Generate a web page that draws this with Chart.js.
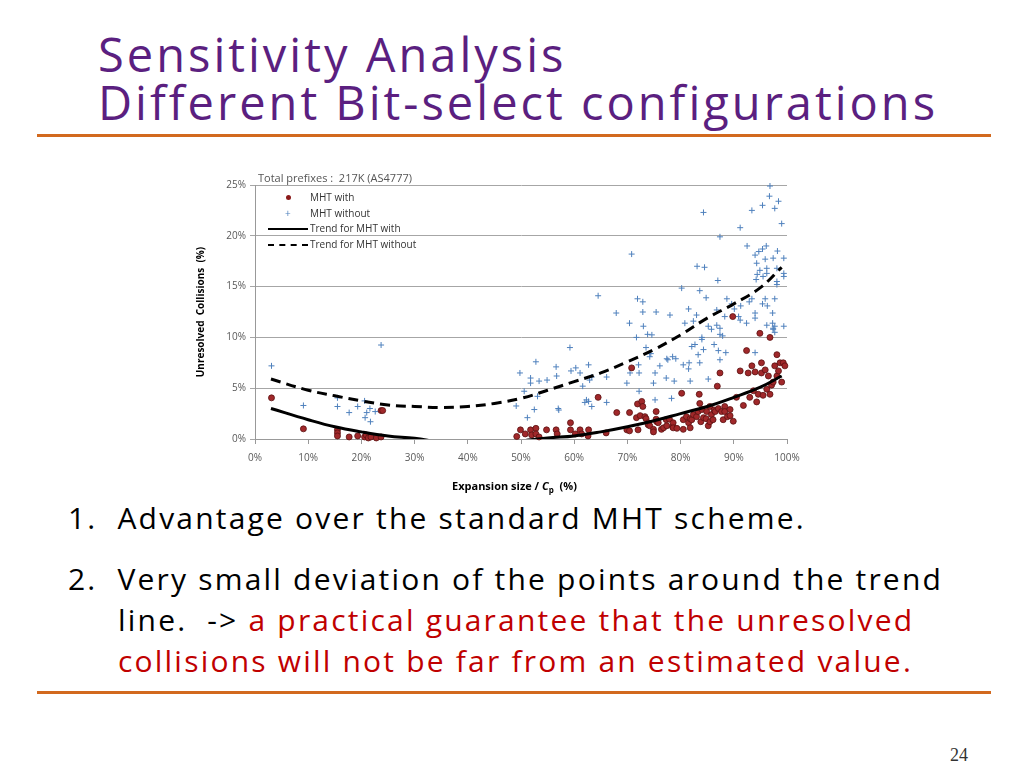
<!DOCTYPE html>
<html>
<head>
<meta charset="utf-8">
<script src="https://cdn.jsdelivr.net/npm/chart.js@4.4.1/dist/chart.umd.min.js"></script>
<style>
  body { margin: 0; background: #fff; }
  #page { position: relative; width: 1024px; height: 768px; overflow: hidden; font-family: "Open Sans", sans-serif; }
  .title { position: absolute; left: 98px; color: #5b1f80; font-size: 47px; letter-spacing: 3px; line-height: 1; white-space: nowrap; }
  .rule { position: absolute; left: 37px; width: 954px; height: 3px; background: #d2691e; }
  .body { position: absolute; font-size: 30px; letter-spacing: 2.2px; white-space: nowrap; color: #000; }
  .red { color: #c00000; }
  #chartBox { position: absolute; left: 150px; top: 160px; width: 660px; height: 320px; }
  .sub { position: absolute; left: 258px; top: 170px; font: 11px "Open Sans", sans-serif; color: #555; }
  .leg { position: absolute; left: 262px; top: 190px; font: 10px "Open Sans", sans-serif; color: #333; }
  .leg div { position: relative; height: 15.5px; line-height: 15.5px; padding-left: 48px; }
  .leg .dot { position: absolute; left: 24px; top: 5px; width: 5px; height: 5px; border-radius: 50%; background: #8b1a1a; }
  .leg .cross { position: absolute; left: 23px; top: 0; color: #4f81bd; font-size: 10px; }
  .leg .ln { position: absolute; left: 6px; top: 7px; width: 40px; border-top: 2.5px solid #000; }
  .leg .dash { border-top: 2.5px dashed #000; }
  .xt { position: absolute; left: 452px; top: 478px; font: bold 11px "Open Sans", sans-serif; color: #000; }
  .pg { position: absolute; left: 950px; top: 745px; font: 18px "Liberation Serif", serif; color: #333; }
</style>
</head>
<body>
<div id="page">
  <div class="title" style="top:31px">Sensitivity Analysis</div>
  <div class="title" style="top:79px">Different Bit-select configurations</div>
  <div class="rule" style="top:134px"></div>

  <div id="chartBox"><canvas id="chart"></canvas></div>
  <div class="sub">Total prefixes :&nbsp; 217K (AS4777)</div>
  <div class="leg">
    <div><span class="dot"></span>MHT with</div>
    <div><span class="cross">+</span>MHT without</div>
    <div><span class="ln"></span>Trend for MHT with</div>
    <div><span class="ln dash"></span>Trend for MHT without</div>
  </div>
  <div class="xt">Expansion size / <i>C</i><sub style="font-size:8px">p</sub>&nbsp; (%)</div>

  <div class="body" style="left:68px; top:497px">1.&nbsp; Advantage over the standard MHT scheme.</div>
  <div class="body" style="left:68px; top:558px">2.&nbsp; Very small deviation of the points around the trend</div>
  <div class="body" style="left:118px; top:599px">line.&nbsp; -&gt; <span class="red">a practical guarantee that the unresolved</span></div>
  <div class="body red" style="left:118px; top:640px">collisions will not be far from an estimated value.</div>
  <div class="rule" style="top:691px"></div>
  <div class="pg">24</div>
</div>

<script>
// MHT with (red dots), x = expansion size %, y = unresolved collisions %
const withX = [3.1,9.1,15.5,15.5,15.5,17.7,19.3,20.6,20.9,21.3,21.8,22.8,23.7,23.7,24.0,
  49.2,49.9,50.8,51.8,52.0,52.8,52.8,53.4,54.8,56.6,56.8,59.3,59.3,60.2,61.1,61.4,62.7,62.6,64.5,66.0,
  68.0,69.9,70.4,70.4,70.8,71.7,71.9,72.0,72.4,72.7,72.9,73.3,73.5,73.9,73.9,74.2,74.9,74.9,75.4,75.4,
  75.5,75.8,76.4,76.8,77.3,77.4,77.9,78.5,78.6,78.6,79.3,80.2,80.5,80.5,81.1,81.5,81.8,81.8,82.1,82.4,
  83.0,83.3,83.5,83.6,83.8,84.0,84.3,84.8,84.9,85.2,85.5,85.5,85.8,86.1,86.3,86.5,86.9,87.1,87.4,87.7,
  88.0,88.3,88.3,88.8,89.3,89.3,89.8,89.9,90.5,91.2,91.8,92.4,92.7,93.0,93.4,93.7,94.0,94.3,94.6,94.9,
  95.2,95.2,95.5,95.9,96.2,96.5,96.8,96.8,97.1,97.4,97.7,98.1,98.1,98.4,98.7,99.0,99.3,99.6];
const withY = [4.05,1.0,0.9,0.6,0.3,0.2,0.3,0.2,0.4,0.1,0.2,0.1,0.2,2.8,2.8,
  0.25,0.9,0.5,0.9,0.4,1.05,0.5,0.2,0.9,0.9,0.5,1.6,0.9,0.5,0.9,0.5,0.9,0.3,4.1,0.6,
  2.6,0.9,2.6,0.8,7.0,2.1,3.45,0.9,2.3,3.7,3.2,2.2,2.0,1.6,1.4,1.3,0.95,0.7,2.7,1.95,
  1.7,1.6,0.95,1.1,1.9,1.3,1.95,1.2,1.6,1.1,1.05,4.5,1.9,0.95,2.2,1.6,1.1,2.0,1.9,2.4,
  2.2,2.7,4.4,3.5,1.7,2.9,2.1,2.0,2.7,1.3,3.2,1.7,2.4,1.9,2.85,2.7,5.2,3.0,6.5,2.7,
  1.9,3.2,2.7,2.2,2.9,2.3,12.05,1.75,4.1,6.7,3.3,8.7,6.5,4.1,7.2,4.75,6.6,3.65,4.4,10.4,
  6.5,7.5,4.3,6.8,4.9,6.2,10.0,4.4,5.3,5.6,7.2,8.3,6.2,6.7,7.5,5.6,7.5,7.2];

// MHT without (blue crosses)
const withoutX = [3.1,9.1,15.5,15.5,17.7,19.3,20.6,20.7,21.0,21.6,21.7,22.6,23.7,
  49.1,49.8,50.6,51.2,51.8,51.8,52.5,52.8,53.1,53.4,54.9,56.6,56.7,57.0,57.1,59.2,59.4,60.3,61.1,61.6,
  62.0,62.3,62.7,62.7,62.9,63.3,63.3,64.5,66.1,66.1,67.9,69.9,70.4,70.5,70.8,71.7,71.9,72.1,72.2,72.2,
  72.9,72.9,73.0,73.5,73.8,74.2,74.4,74.6,74.9,75.2,75.2,75.4,76.1,77.3,77.4,77.6,78.0,78.3,78.5,78.8,
  79.1,80.2,80.5,80.8,81.5,81.5,81.6,81.8,82.1,82.4,82.7,83.0,83.1,83.3,83.6,83.6,84.0,84.0,84.3,84.3,
  84.5,84.8,85.2,85.2,85.8,86.3,86.8,86.8,87.0,87.1,87.4,87.4,87.4,87.4,87.9,88.3,88.5,88.7,89.6,90.1,
  90.9,91.2,91.2,91.3,92.4,92.5,92.9,93.4,93.4,94.0,94.0,94.0,94.0,94.2,94.3,94.4,94.7,94.9,95.4,95.4,
  95.4,95.5,95.9,95.9,96.1,96.2,96.2,96.2,96.3,96.7,96.8,97.3,97.3,97.4,97.4,97.4,97.7,97.7,97.7,97.7,
  98.1,98.1,98.1,98.2,98.4,99.0,99.4,99.4,99.4,99.4];
const withoutY = [7.2,3.3,4.05,3.2,2.6,3.2,3.75,2.1,2.6,3.0,1.7,2.7,9.25,
  3.25,6.5,4.7,2.1,6.0,5.5,2.9,7.6,4.2,5.7,5.8,7.1,6.2,3.0,2.85,9.0,6.7,7.0,6.5,5.2,
  3.6,3.85,7.3,3.7,5.8,6.1,3.2,14.1,6.1,3.6,12.4,5.5,11.4,6.5,18.2,10.0,13.8,7.3,6.5,4.7,
  13.5,12.5,11.1,9.0,10.3,8.1,8.4,10.25,5.5,6.5,3.85,12.5,7.2,6.0,7.9,7.8,12.2,4.0,8.1,5.7,
  7.9,14.85,7.3,11.4,12.8,6.9,7.5,5.7,9.1,11.6,9.3,12.2,17.0,8.3,14.6,7.5,10.0,9.8,22.3,8.8,
  16.9,13.9,11.1,5.9,10.8,9.3,12.7,11.2,15.6,8.7,19.9,10.9,10.3,7.8,10.15,12.05,8.5,13.8,13.3,12.8,
  12.05,20.8,11.7,13.1,11.4,19.0,13.5,22.5,13.8,18.1,12.4,11.9,8.5,15.7,17.3,16.2,18.45,16.6,23.0,18.7,
  13.3,16.0,17.7,13.8,19.0,16.8,16.3,11.2,13.1,23.9,24.9,12.4,11.4,17.8,10.9,10.8,22.7,13.8,11.1,10.5,
  16.8,15.5,15.2,18.5,23.4,21.2,17.8,16.3,16.0,11.1];

// trend lines
const trendX = [3,10,15,20,25,30,35,40,45,50,55,60,65,70,75,80,85,90,95,99];
const trendWith = [3.0,1.9,1.2,0.7,0.3,0.07,-0.3,-0.5,-0.5,-0.2,0.1,0.3,0.7,1.2,1.8,2.5,3.2,4.1,5.1,6.2];
const trendWithout = [5.9,4.8,4.25,3.75,3.35,3.2,3.1,3.2,3.5,4.0,4.8,5.65,6.5,7.6,8.8,10.25,11.9,13.3,14.9,16.9];

const xTicks = [0,10,20,30,40,50,60,70,80,90,100];

const pts = (xs, ys) => xs.map((x, i) => ({x: x, y: ys[i]}));

const ctx = document.querySelector('#chart').getContext('2d');

new Chart(ctx, {
    type: 'scatter',
    data: {
        datasets: [
            {
                label: 'Trend for MHT with',
                data: pts(trendX, trendWith),
                showLine: true,
                borderColor: '#000',
                borderWidth: 3,
                pointRadius: 0,
                tension: 0.4,
                clip: 0,
                order: 0
            },
            {
                label: 'Trend for MHT without',
                data: pts(trendX, trendWithout),
                showLine: true,
                borderColor: '#000',
                borderWidth: 3,
                borderDash: [10, 6],
                pointRadius: 0,
                tension: 0.4,
                clip: 0,
                order: 0
            },
            {
                label: 'MHT without',
                data: pts(withoutX, withoutY),
                pointStyle: 'cross',
                pointRadius: 3,
                borderColor: '#4f81bd',
                borderWidth: 1,
                clip: false,
                order: 2
            },
            {
                label: 'MHT with',
                data: pts(withX, withY),
                pointStyle: 'circle',
                pointRadius: 3,
                backgroundColor: '#a0282a',
                borderColor: '#5a1010',
                borderWidth: 0.8,
                clip: false,
                order: 1
            }
        ]
    },
    options: {
        responsive: true,
        maintainAspectRatio: false,
        animation: false,
        layout: { padding: { left: 45, right: 23, top: 25, bottom: 6 } },
        plugins: { legend: { display: false }, tooltip: { enabled: false } },
        scales: {
            x: {
                type: 'linear',
                min: 0,
                max: 100,
                afterBuildTicks: (s) => { s.ticks = xTicks.map(v => ({value: v})) },
                afterFit: (s) => { s.height = 35 },
                ticks: {
                    padding: 8,
                    color: '#595959',
                    font: { family: 'Open Sans', size: 10 },
                    callback: (v) => v + '%'
                },
                grid: { drawOnChartArea: false, tickLength: 5, color: '#999' },
                border: { color: '#999' }
            },
            y: {
                min: 0,
                max: 25,
                afterFit: (s) => { s.width = 60 },
                ticks: {
                    stepSize: 5,
                    padding: 4,
                    color: '#595959',
                    font: { family: 'Open Sans', size: 10 },
                    callback: (v) => v + '%'
                },
                grid: { color: '#a6a6a6', tickLength: 5, lineWidth: 1 },
                border: { color: '#999' },
                title: {
                    display: true,
                    text: 'Unresolved  Collisions  (%)',
                    color: '#000',
                    font: { family: 'Open Sans', size: 10, weight: 'bold' },
                    padding: 0
                }
            }
        }
    }
})
</script>
</body>
</html>
